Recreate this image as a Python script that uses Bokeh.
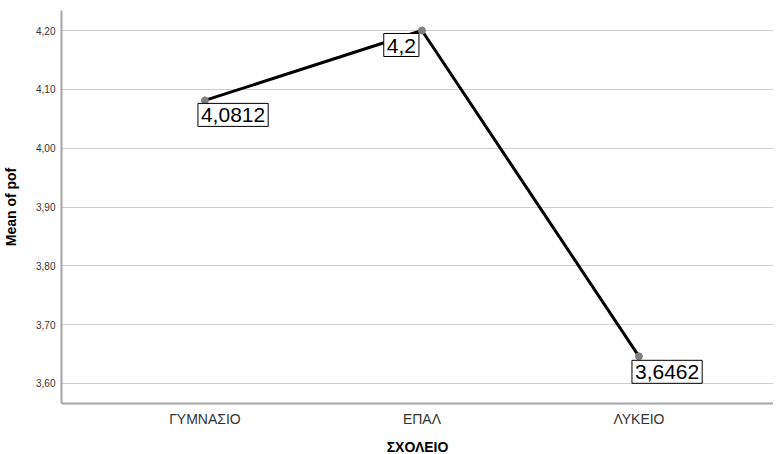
from bokeh.plotting import figure
from bokeh.models import Range1d, FixedTicker, Label, ColumnDataSource
from bokeh.embed import file_html
from bokeh.resources import INLINE

categories = ["ΓΥΜΝΑΣΙΟ", "ΕΠΑΛ", "ΛΥΚΕΙΟ"]
means = [4.0812, 4.2, 3.6462]
value_labels = ["4,0812", "4,2", "3,6462"]
y_ticks = [3.60, 3.70, 3.80, 3.90, 4.00, 4.10, 4.20]
y_tick_labels = ["3,60", "3,70", "3,80", "3,90", "4,00", "4,10", "4,20"]

xs = list(range(len(categories)))
src = ColumnDataSource(dict(x=xs, y=means))

p = figure(frame_width=712, frame_height=393, output_backend="svg", toolbar_location=None,
           x_range=Range1d(-0.661, 2.620), y_range=Range1d(3.566, 4.234),
           min_border_left=56, min_border_right=0, min_border_top=10, min_border_bottom=30)
p.outline_line_color = None
p.background_fill_color = "white"

p.line("x", "y", source=src, line_width=3, line_color="black")
p.scatter("x", "y", source=src, size=7, fill_color="#7f7f7f", line_color="#7f7f7f")

# axes
p.xaxis.ticker = FixedTicker(ticks=xs)
p.xaxis.major_label_overrides = {i: c for i, c in enumerate(categories)}
p.yaxis.ticker = FixedTicker(ticks=y_ticks)
p.yaxis.major_label_overrides = {t: l for t, l in zip(y_ticks, y_tick_labels)}
for ax in (p.xaxis[0], p.yaxis[0]):
    ax.axis_line_color = "#a6a6a6"
    ax.axis_line_width = 2
    ax.major_tick_line_color = None
    ax.minor_tick_line_color = None
    ax.major_tick_out = 0
    ax.major_tick_in = 0
    ax.minor_tick_out = 0
    ax.minor_tick_in = 0
    ax.major_label_text_font = "Liberation Sans"
    ax.axis_label_text_font = "Liberation Sans"
    ax.axis_label_text_font_style = "bold"
    ax.axis_label_text_font_size = "14px"
    ax.axis_label_text_color = "black"
p.xaxis.major_label_text_font_size = "14px"
p.xaxis.major_label_text_color = "#333333"
p.xaxis.major_label_standoff = 7
p.xaxis.axis_label = "ΣΧΟΛΕΙΟ"
p.xaxis.axis_label_standoff = 9
p.yaxis.major_label_text_font_size = "10px"
p.yaxis.major_label_text_color = "#333333"
p.yaxis.major_label_standoff = 6
p.yaxis.axis_label = "Mean of pof"
p.yaxis.axis_label_standoff = 14

p.xgrid.grid_line_color = None
p.ygrid.grid_line_color = "#cfcfcf"
p.ygrid.grid_line_width = 1

# value labels
offsets = [(-7, -3, "left"), (-3, -3, "right"), (-7, -4, "left")]
for i, (lab, (dx, dy, al)) in enumerate(zip(value_labels, offsets)):
    p.add_layout(Label(x=xs[i], y=means[i], text=lab, x_offset=dx, y_offset=dy,
                       text_align=al, text_baseline="top",
                       text_font="Liberation Sans", text_font_size="21px", text_color="black",
                       background_fill_color="white", border_line_color="black",
                       border_line_width=1,
                       padding=dict(left=3, right=3, top=5, bottom=4)))

open("out.html", "w").write(file_html(p, INLINE))
